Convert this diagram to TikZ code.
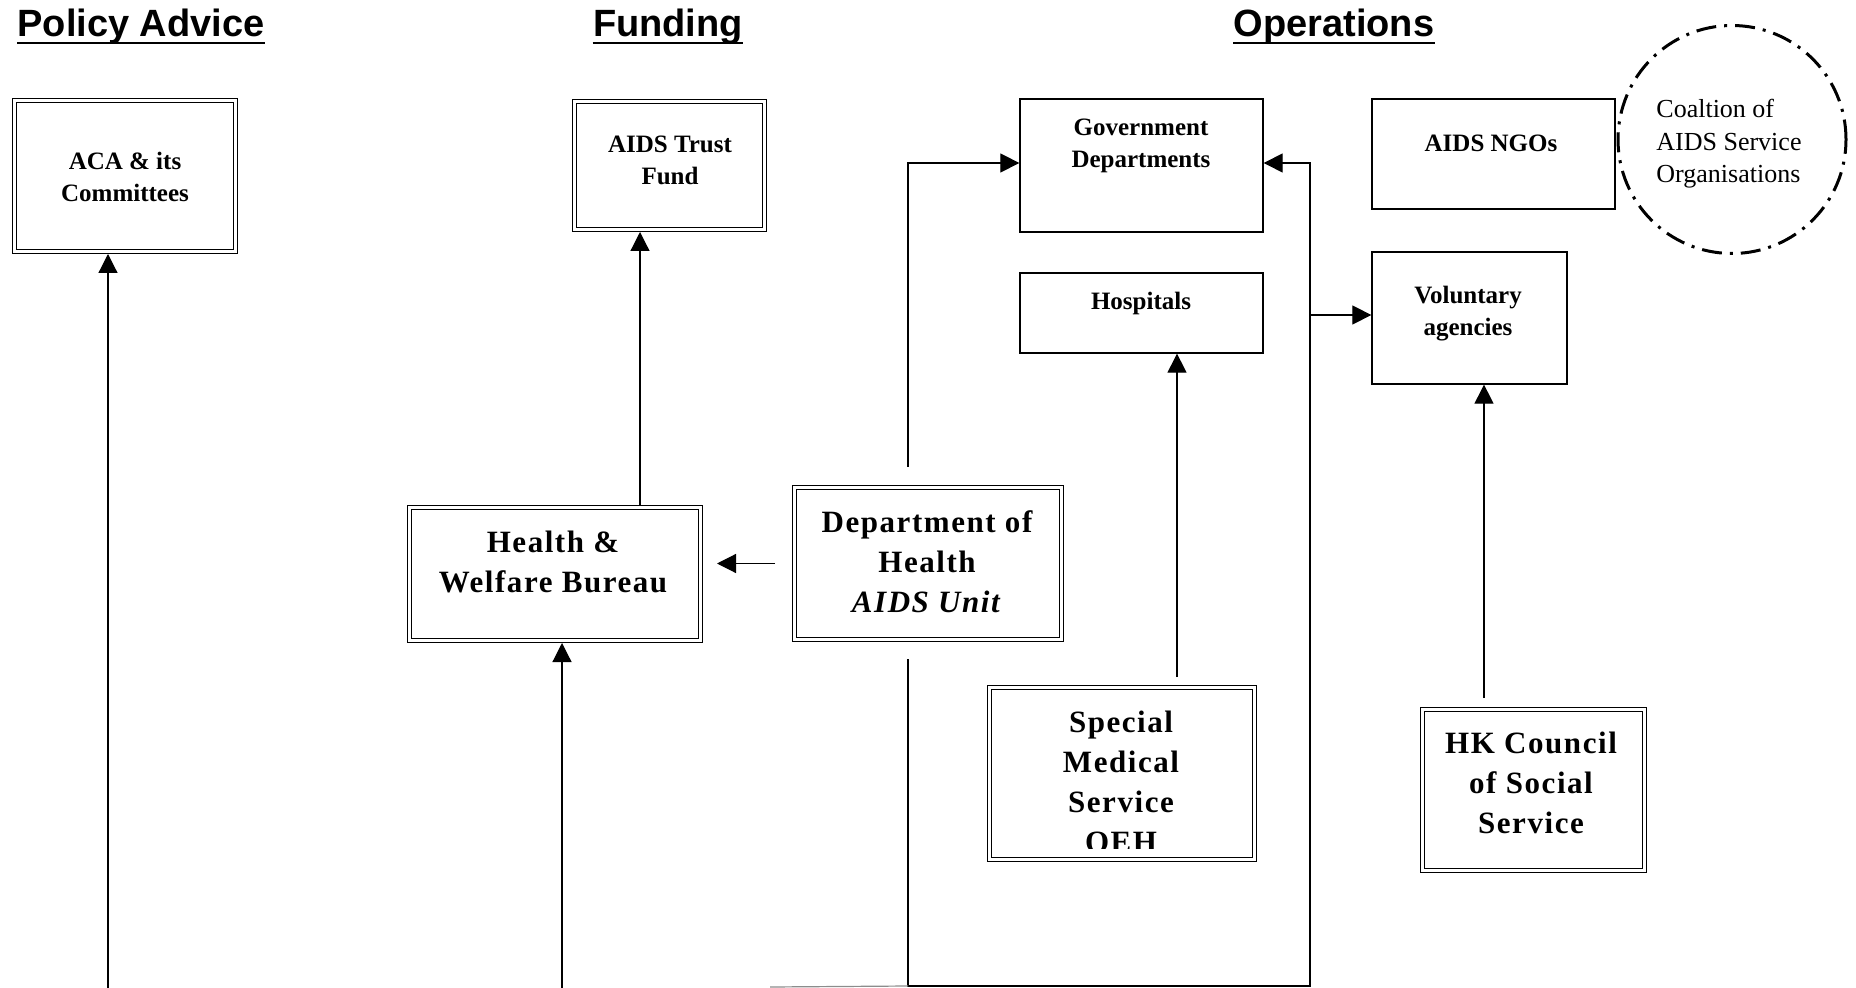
\documentclass[tikz,border=0pt]{standalone}
\usepackage{fontspec}
\setmainfont{Liberation Serif}
\newfontfamily\headfont{Liberation Sans}
\newfontfamily\widefont[LetterSpace=5]{Liberation Serif}
\usetikzlibrary{arrows.meta}

\tikzset{
  heading/.style={font=\headfont\bfseries\fontsize{19}{23}\selectfont, inner sep=0pt, anchor=base},
  uline/.style={line width=1.2pt},
  sbox/.style={draw, line width=0.65pt},
  dbox/.style={draw, line width=0.6pt, double, double distance=1.3pt, outer sep=1.25pt},
  smalltxt/.style={font=\bfseries\fontsize{12.5}{16}\selectfont, align=center, inner sep=0pt, anchor=base},
  bigtxt/.style={font=\widefont\bfseries\fontsize{15.5}{20}\selectfont, align=center, inner sep=0pt, anchor=base},
  wire/.style={line width=0.6pt},
  link/.style={wire, -{Triangle[length=9.5pt,width=9.5pt]}},
}

\begin{document}
\begin{tikzpicture}[x=0.5pt, y=-0.5pt]
		\useasboundingbox (0,0) rectangle (1856,988);

		% column headings
		\node[heading] (pol) at (141,37) {Policy Advice};
		\node[heading] (fund) at (668,37) {Funding};
		\node[heading] (ops) at (1334,37) {Operations};
		\draw[uline] ([yshift=-3pt]pol.base west) -- ([yshift=-3pt]pol.base east);
		\draw[uline] ([yshift=-3pt]fund.base west) -- ([yshift=-3pt]fund.base east);
		\draw[uline] ([yshift=-3pt]ops.base west) -- ([yshift=-3pt]ops.base east);

		% boxes
		\node[dbox, minimum width=110.5pt, minimum height=75.5pt] (aca) at (125,176) {};
		\node[dbox, minimum width=95pt, minimum height=64pt] (atf) at (669.5,165.5) {};
		\node[sbox, minimum width=121.5pt, minimum height=66.5pt] (gov) at (1141.5,165.5) {};
		\node[sbox, minimum width=121.5pt, minimum height=40pt] (hosp) at (1141.5,313) {};
		\node[sbox, minimum width=121.5pt, minimum height=55pt] (ngo) at (1493.5,154) {};
		\node[sbox, minimum width=97.5pt, minimum height=66pt] (vol) at (1469.5,318) {};
		\node[dbox, minimum width=145.5pt, minimum height=66.5pt] (hwb) at (555,574) {};
		\node[dbox, minimum width=133.5pt, minimum height=76pt] (doh) at (928,563.5) {};
		\node[dbox, minimum width=132.5pt, minimum height=86pt] (sms) at (1122,773.5) {};
		\node[dbox, minimum width=111pt, minimum height=80.5pt] (hkc) at (1533.5,790) {};
		\node[draw, circle, minimum size=114pt, line width=1.5pt,
			dash pattern=on 10pt off 4pt on 1.5pt off 4pt] (coal) at (1732,139.5) {};

		% box texts (base = last line)
		\node[smalltxt] (aca-t) at (125,202) {ACA \& its\\Committees};
		\node[smalltxt] (atf-t) at (670,185) {AIDS Trust\\Fund};
		\node[smalltxt] (gov-t) at (1141,168) {Government\\Departments};
		\node[smalltxt] (hosp-t) at (1141,310) {Hospitals};
		\node[smalltxt] (ngo-t) at (1491,152) {AIDS NGOs};
		\node[smalltxt] (vol-t) at (1468,336) {Voluntary\\agencies};
		\node[font=\fontsize{13}{16.25}\selectfont, align=left, inner sep=0pt, anchor=base west]
			(coal-t) at (1656,183) {Coaltion of\\AIDS Service\\Organisations};
		\node[bigtxt] (hwb-t) at (553,592) {Health \&\\Welfare Bureau};
		\node[bigtxt] (doh-t) at (927,612) {Department of\\Health\\\textit{AIDS Unit}};
		\node[bigtxt] (hkc-t) at (1531,833) {HK Council\\of Social\\Service};
		\begin{scope}
			\clip (990,690) rectangle (1255,848);
			\node[bigtxt] (sms-t) at (1121,852) {Special\\Medical\\Service\\OEH};
		\end{scope}

		% connectors
		\coordinate (acafoot) at (108,988);
		\coordinate (hwbfoot) at (562,988);
		\coordinate (loopl) at (770,987);
		\coordinate (loopb) at (908,986);
		\coordinate (loopr) at (1310,986);
		\draw[link] (acafoot) -- (acafoot |- aca.south);
		\draw[link] (hwbfoot) -- (hwbfoot |- hwb.south);
		\draw[link] ([xshift=42.5pt]hwb.north) -- ([xshift=42.5pt]hwb.north |- atf.south);
		\draw[link] ([xshift=-8.5pt]doh.west) -- ([xshift=7pt]doh.west -| hwb.east);
		\draw[link] ([xshift=-10pt,yshift=9pt]doh.north) |- ([yshift=1.25pt]gov.west);
		\draw[link] ([xshift=-10pt,yshift=-8.5pt]doh.south) -- (loopb) -- (loopr) |- ([yshift=1.25pt]gov.east);
		\draw[wire, black!45] (loopl) -- (loopb);
		\draw[link] ([yshift=1.5pt]vol.west -| loopr) -- ([yshift=1.5pt]vol.west);
		\draw[link] ([xshift=27.5pt,yshift=4pt]sms.north) -- ([xshift=27.5pt]sms.north |- hosp.south);
		\draw[link] ([xshift=-24.75pt,yshift=4.5pt]hkc.north) -- ([xshift=-24.75pt]hkc.north |- vol.south);
	\end{tikzpicture}
\end{document}
